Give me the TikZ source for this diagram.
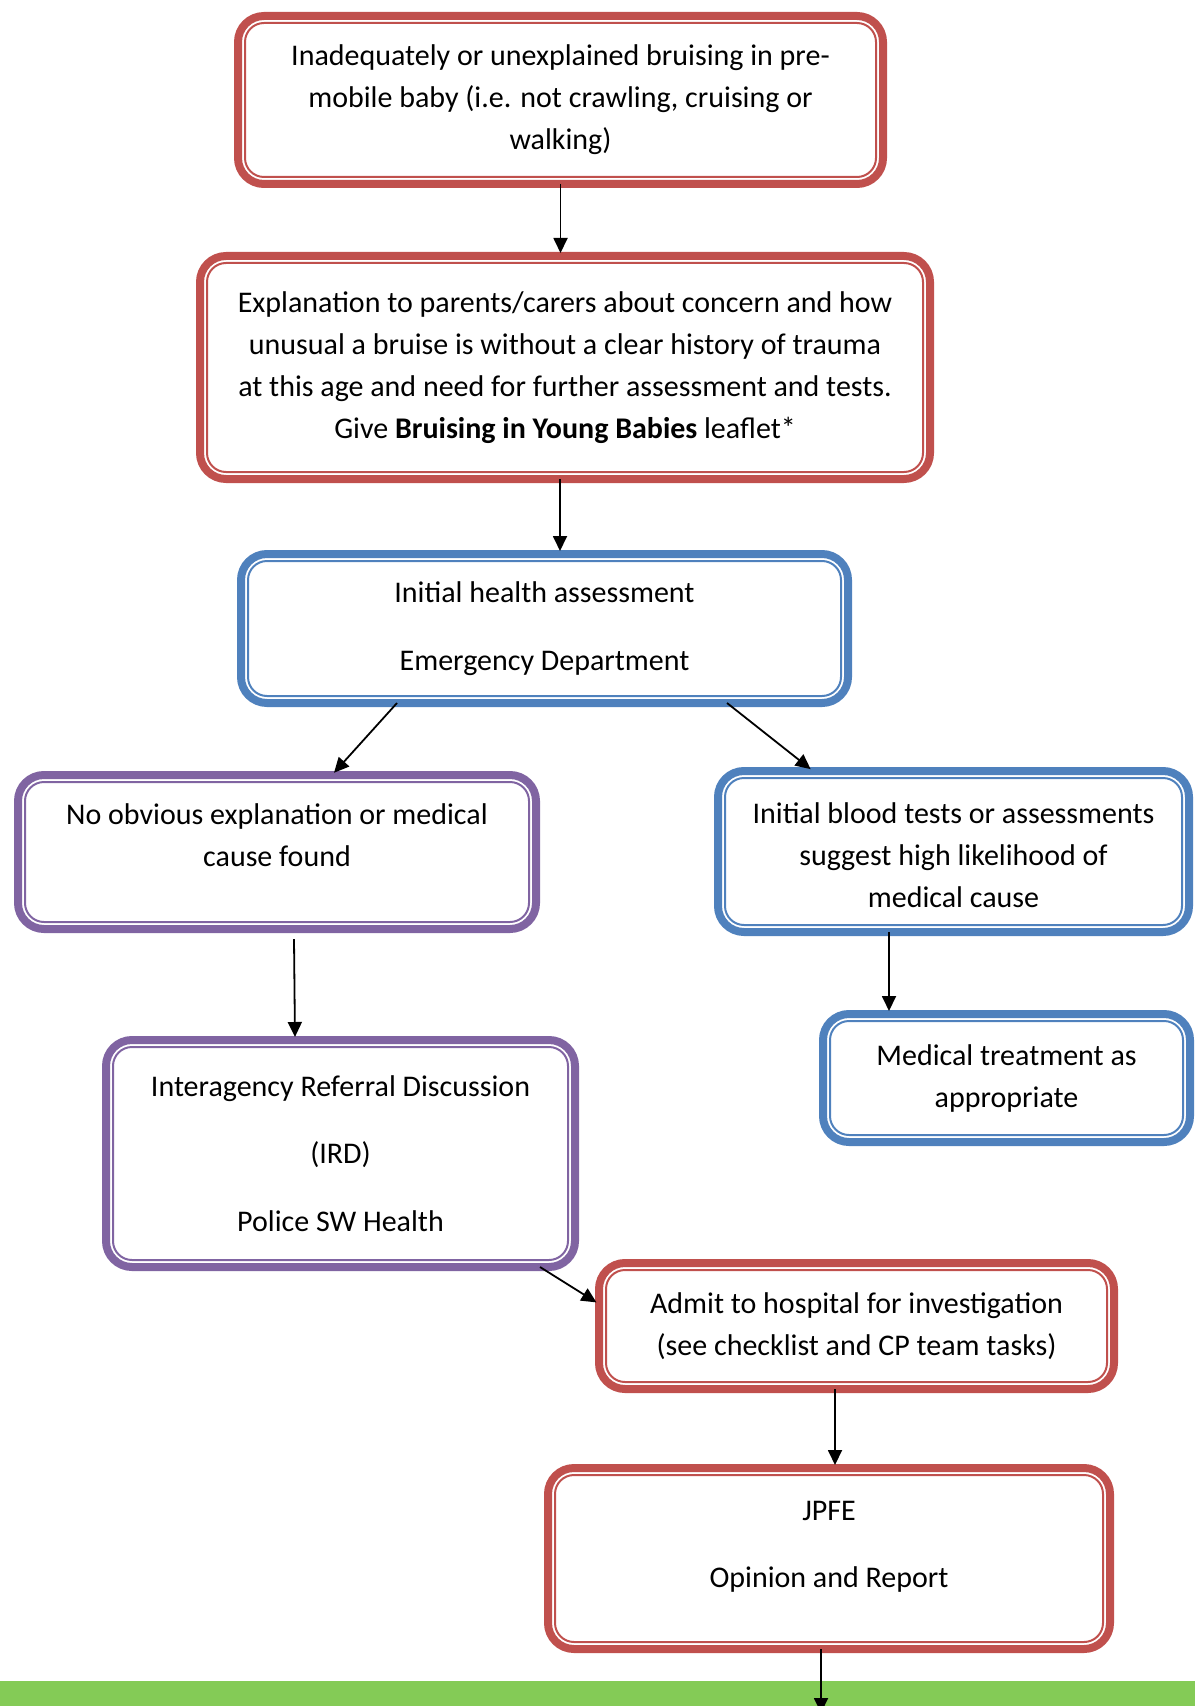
\documentclass[tikz,border=0pt]{standalone}
\usepackage{fontspec}
\setmainfont{Carlito}
\usepackage{xcolor}
\usetikzlibrary{arrows.meta}
\definecolor{boxred}{HTML}{C0504D}
\definecolor{boxblue}{HTML}{4F81BD}
\definecolor{boxpurple}{HTML}{8064A2}
\definecolor{bargreen}{HTML}{84CB56}
\tikzset{
    flowbox/.style={rectangle, rounded corners=13pt, draw=#1, line width=4pt, outer sep=0pt,
        align=center, font=\fontsize{15}{21}\selectfont,
        append after command={\pgfextra{\draw[#1, line width=1pt, rounded corners=9.5pt]
            ([shift={(3.5pt,-3.5pt)}]\tikzlastnode.north west) rectangle
            ([shift={(-3.5pt,3.5pt)}]\tikzlastnode.south east);}}},
    redbox/.style={flowbox=boxred},
    bluebox/.style={flowbox=boxblue},
    purplebox/.style={flowbox=boxpurple},
    arrow/.style={-{Triangle[length=7.5pt, width=7pt]}, line width=0.9pt, shorten >=1.5pt}
}
\begin{document}
\begin{tikzpicture}[x=0.5pt, y=-0.5pt]
    \useasboundingbox (0,0) rectangle (1195,1706);

    \node (b1) [redbox, minimum width=322.5pt, minimum height=84pt] at (560.5,100)
        {Inadequately or unexplained bruising in pre-\\mobile baby (i.e. not crawling, cruising or\\walking)};
    \node (b2) [redbox, minimum width=365pt, minimum height=111.5pt] at (565,367.5)
        {Explanation to parents/carers about concern and how\\unusual a bruise is without a clear history of trauma\\at this age and need for further assessment and tests.\\Give \textbf{Bruising in Young Babies} leaflet*};
    \node (b3) [bluebox, minimum width=303.5pt, minimum height=74.5pt] at (544.5,628.5)
        {Initial health assessment\\[12.75pt]Emergency Department};
    \node (b4) [purplebox, minimum width=259pt, minimum height=77pt] at (277,852)
        {No obvious explanation or medical\\cause found\\[-4.5pt]\mbox{}};
    \node (b5) [bluebox, minimum width=235.5pt, minimum height=80.5pt] at (953.5,851.5)
        {\mbox{}\\[-7pt]Initial blood tests or assessments\\suggest high likelihood of\\medical cause};
    \node (b6) [bluebox, minimum width=183.5pt, minimum height=64pt] at (1006.5,1078)
        {Medical treatment as\\appropriate};
    \node (b7) [purplebox, minimum width=234.5pt, minimum height=113.5pt] at (340.5,1153.5)
        {Interagency Referral Discussion\\[12.75pt](IRD)\\[12.75pt]Police SW Health};
    \node (b8) [redbox, minimum width=257.5pt, minimum height=63pt] at (856.5,1326)
        {Admit to hospital for investigation\\(see checklist and CP team tasks)};
    \node (b9) [redbox, minimum width=281pt, minimum height=90.5pt] at (829,1558.5)
        {JPFE\\[12.75pt]Opinion and Report\\[-7pt]\mbox{}};

    % green band at the foot of the page
    \fill[bargreen] (0,1681) rectangle (1195,1706);
    \coordinate (pageend) at (821,1716);

    \draw[arrow] (b1.south) -- (b1.south |- b2.north);
    \draw[arrow] ([xshift=-2.5pt]b2.south) -- ([xshift=-2.5pt]b2.south |- b3.north);
    \draw[arrow] ([xshift=-73.75pt]b3.south) -- ([xshift=27.5pt]b4.north);
    \draw[arrow] ([xshift=91.25pt]b3.south) -- ([xshift=-70.25pt]b5.north);
    \draw[arrow] ([xshift=8.5pt,yshift=-5pt]b4.south) -- ([xshift=-22.75pt]b7.north);
    \draw[arrow] ([xshift=-32.25pt]b5.south) -- ([xshift=-32.25pt]b5.south |- b6.north);
    \draw[arrow] ([xshift=99.75pt]b7.south) -- ([yshift=11pt]b8.west);
    \draw[arrow] ([xshift=-10.75pt]b8.south) -- ([xshift=-10.75pt]b8.south |- b9.north);
    \draw[arrow] ([xshift=-4pt]b9.south) -- (pageend);
\end{tikzpicture}
\end{document}
